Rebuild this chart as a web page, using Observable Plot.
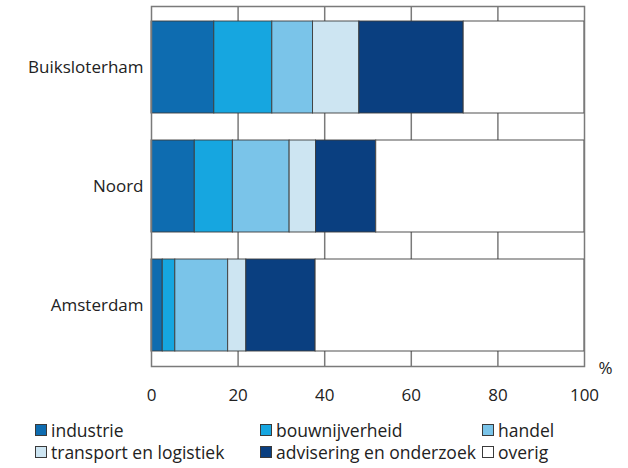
<!DOCTYPE html>
<html>
<head>
<meta charset="utf-8">
<script src="https://cdn.jsdelivr.net/npm/d3@7"></script>
<script src="https://cdn.jsdelivr.net/npm/@observablehq/plot@0.6"></script>
<style>
  body { margin: 0; background: #fff; font-family: "Open Sans", sans-serif; }
  #legend { position: relative; height: 58px; width: 628px; color: #222; font-size: 17.5px; }
  .item { position: absolute; display: flex; align-items: center; white-space: nowrap; height: 22px; }
  .sw { width: 12px; height: 12px; border: 1px solid #3a3a3a; margin-right: 4px; box-sizing: border-box; flex: none; }
</style>
</head>
<body>
<div id="chart"></div>
<div id="legend"></div>
<script>
const regions = ["Buiksloterham", "Noord", "Amsterdam"];
const sectors = ["industrie", "bouwnijverheid", "handel", "transport en logistiek", "advisering en onderzoek", "overig"];
const colors = ["#0e6cb0", "#16a6e0", "#7ac4e9", "#cde5f2", "#0a3f80", "#ffffff"];
const buiksloterham = [14.5, 13.4, 9.4, 10.7, 24.1, 27.9];
const noord = [10.0, 8.8, 13.1, 6.1, 13.9, 48.1];
const amsterdam = [2.6, 2.9, 12.2, 4.2, 16.0, 62.1];
const xTicks = [0, 20, 40, 60, 80, 100];
const gridTicks = [20, 40, 60, 80];

const series = [buiksloterham, noord, amsterdam];
const data = [];
regions.forEach((r, i) => sectors.forEach((s, j) => data.push({region: r, sector: s, value: series[i][j]})));

const chart = Plot.plot({
  width: 628,
  height: 410,
  marginTop: 6,
  marginBottom: 44,
  marginLeft: 151,
  marginRight: 44,
  style: {fontFamily: "Open Sans, sans-serif", fontSize: "17px", color: "#222", background: "#fff"},
  x: {domain: [0, 100], ticks: xTicks, tickSize: 0, tickPadding: 22, label: null},
  y: {domain: regions, paddingInner: 0.23, paddingOuter: 0.127, tickSize: 0, tickPadding: 8, label: null},
  color: {domain: sectors, range: colors},
  marks: [
    Plot.ruleX(gridTicks, {stroke: "#7a7a7a", strokeWidth: 1.5}),
    Plot.barX(data, Plot.stackX({y: "region", x: "value", fill: "sector", order: null, stroke: "#3c3c3c", strokeWidth: 1, strokeOpacity: 0.9})),
    Plot.frame({stroke: "#7a7a7a", strokeWidth: 1.5}),
    Plot.text(["%"], {frameAnchor: "bottom-right", dx: 28, dy: 2, lineAnchor: "middle", fill: "#222", fontSize: 17})
  ]
});
document.getElementById("chart").appendChild(chart);

const legend = document.getElementById("legend");
const colX = [35, 260, 482];
const rowY = [9, 31];
sectors.forEach((s, i) => {
  const d = document.createElement("div");
  d.className = "item";
  d.style.left = colX[i % 3] + "px";
  d.style.top = rowY[Math.floor(i / 3)] + "px";
  const sw = document.createElement("div");
  sw.className = "sw";
  sw.style.background = colors[i];
  const t = document.createElement("span");
  t.textContent = s;
  d.appendChild(sw);
  d.appendChild(t);
  legend.appendChild(d);
});
</script>
</body>
</html>
